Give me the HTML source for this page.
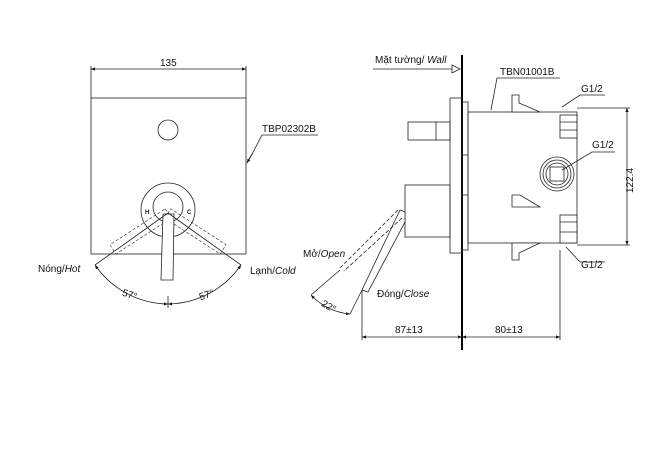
<!DOCTYPE html>
<html><head><meta charset="utf-8"><style>
html,body{margin:0;padding:0;background:#fff}
svg{display:block}
text{font-family:"Liberation Sans",sans-serif;font-size:10px;fill:#111}
</style></head><body>
<svg width="670" height="474" viewBox="0 0 670 474" xmlns="http://www.w3.org/2000/svg">
<defs>
<marker id="a" viewBox="0 0 10 10" refX="10" refY="5" markerWidth="7" markerHeight="5" orient="auto-start-reverse"><path d="M0,1 L10,5 L0,9 z" fill="#111"/></marker>
</defs>
<g stroke="#222" stroke-width="0.8" fill="none">
<line x1="91" y1="66" x2="91" y2="98"/><line x1="246" y1="66" x2="246" y2="98"/>
<line x1="91" y1="69" x2="246" y2="69" marker-start="url(#a)" marker-end="url(#a)"/>
<rect x="91" y="98" width="155" height="156"/>
<circle cx="168" cy="130" r="10"/>
<circle cx="168" cy="210" r="27"/>
<circle cx="168" cy="207" r="15"/>
<g stroke-dasharray="3,2" stroke-width="0.6">
<g transform="rotate(57 168 213)"><rect x="163" y="213" width="11" height="66"/></g>
<g transform="rotate(-57 168 213)"><rect x="162" y="213" width="11" height="66"/></g>
</g>
<polygon points="163,214 174,214 173,280 161,280" fill="#fff"/>
<line x1="168" y1="213" x2="95" y2="265"/><line x1="168" y1="213" x2="241" y2="265"/>
<path d="M95,265 A90,90 0 0 0 168,304" marker-start="url(#a)" marker-end="url(#a)"/>
<path d="M168,304 A90,90 0 0 0 241,265" marker-start="url(#a)" marker-end="url(#a)"/>
<line x1="168" y1="296" x2="168" y2="308"/>
<polyline points="318,135 262,135 249,160" /><line x1="252" y1="154" x2="247" y2="163" marker-end="url(#a)"/>
<line x1="462" y1="55" x2="462" y2="350" stroke="#000" stroke-width="2"/>
<line x1="373" y1="69" x2="452" y2="69"/><polygon points="452,65 460,69 452,73"/>
<rect x="450" y="98" width="12" height="155"/>
<rect x="462" y="102" width="6" height="148"/>
<line x1="462" y1="155" x2="468" y2="155"/><line x1="462" y1="195" x2="468" y2="195"/>
<rect x="408" y="122" width="42" height="18"/><line x1="436" y1="122" x2="436" y2="140"/>
<rect x="405" y="185" width="45" height="52"/>
<rect x="468" y="112" width="109" height="131"/>
<polygon points="512,95 519,95 519,103 540,112 512,112" fill="#fff"/>
<polygon points="512,243 540,243 519,253 519,260 512,260" fill="#fff"/>
<polygon points="512,195 520,195 540,207 512,207" fill="#fff"/>
<rect x="560" y="115" width="17" height="23" fill="#fff"/>
<line x1="560" y1="122" x2="577" y2="122"/><line x1="560" y1="130" x2="577" y2="130"/>
<rect x="560" y="215" width="17" height="28" fill="#fff"/>
<line x1="560" y1="222" x2="577" y2="222"/><line x1="560" y1="232" x2="577" y2="232"/>
<circle cx="557" cy="174" r="17"/><circle cx="557" cy="174" r="14"/><circle cx="557" cy="174" r="11"/>
<rect x="550" y="167" width="14" height="14"/>
<line x1="577" y1="108" x2="630" y2="108"/><line x1="577" y1="245" x2="630" y2="245"/>
<line x1="627" y1="108" x2="627" y2="245" marker-start="url(#a)" marker-end="url(#a)"/>
<polyline points="560,78 497,78 491,110"/>
<polyline points="605,95 580,95 562,107"/>
<polyline points="615,152 592,152 562,170"/>
<polyline points="605,262 580,262 566,247"/>
<polygon points="400,210 405,212 405,222 368,292 362,290" fill="#fff"/>
<g stroke-dasharray="4,2"><line x1="398" y1="210" x2="340" y2="268"/><line x1="402" y1="218" x2="344" y2="271"/></g>
<line x1="340" y1="270" x2="311" y2="295"/>
<line x1="362" y1="290" x2="350" y2="314"/>
<path d="M311,295 A60,60 0 0 0 350,314" marker-start="url(#a)" marker-end="url(#a)"/>
<line x1="362" y1="290" x2="362" y2="340"/><line x1="560" y1="250" x2="560" y2="340"/>
<line x1="362" y1="337" x2="462" y2="337" marker-start="url(#a)" marker-end="url(#a)"/>
<line x1="462" y1="337" x2="560" y2="337" marker-start="url(#a)" marker-end="url(#a)"/>
</g>
<text x="160" y="66">135</text>
<text x="262" y="132">TBP02302B</text>
<text x="145" y="214" style="font-size:6px;font-weight:bold">H</text>
<text x="187" y="214" style="font-size:6px;font-weight:bold">C</text>
<text x="38" y="272">Nóng/<tspan font-style="italic">Hot</tspan></text>
<text x="250" y="274">Lạnh/<tspan font-style="italic">Cold</tspan></text>
<text x="122" y="298" transform="rotate(18 130 295)">57°</text>
<text x="199" y="298" transform="rotate(-18 207 295)">57°</text>
<text x="375" y="63">Mặt tường/ <tspan font-style="italic">Wall</tspan></text>
<text x="500" y="75">TBN01001B</text>
<text x="581" y="92">G1/2</text>
<text x="592" y="148">G1/2</text>
<text x="581" y="268">G1/2</text>
<text x="0" y="0" transform="translate(633,193) rotate(-90)">122.4</text>
<text x="303" y="257">Mở/<tspan font-style="italic">Open</tspan></text>
<text x="377" y="297">Đóng/<tspan font-style="italic">Close</tspan></text>
<text x="322" y="310" transform="rotate(30 330 305)">22°</text>
<text x="395" y="333">87±13</text>
<text x="495" y="333">80±13</text>
</svg>
</body></html>
